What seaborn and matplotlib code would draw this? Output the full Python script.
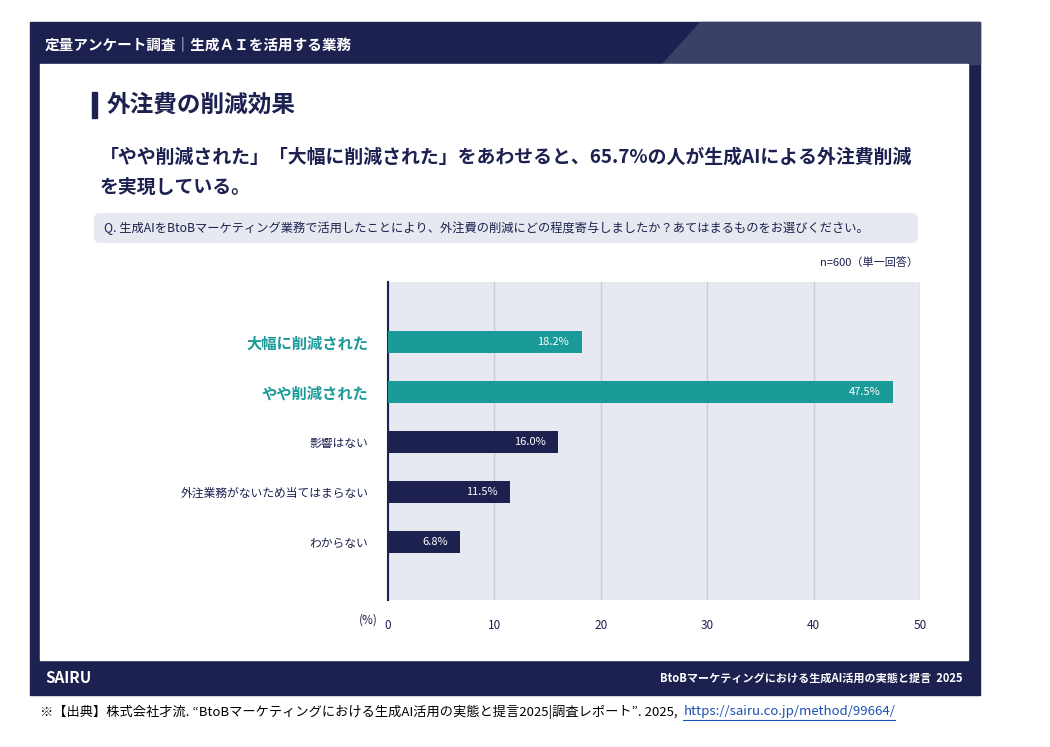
import matplotlib
matplotlib.use("Agg")
import matplotlib.pyplot as plt
from matplotlib.patches import Rectangle, FancyBboxPatch, Polygon
import pandas as pd
import seaborn as sns

categories = ["大幅に削減された", "やや削減された", "影響はない", "外注業務がないため当てはまらない", "わからない"]
values = [18.2, 47.5, 16.0, 11.5, 6.8]
highlight = [True, True, False, False, False]
x_ticks = [0, 10, 20, 30, 40, 50]

NAVY = "#1c2150"
TEAL = "#1a9a98"
PANEL = "#e6e9ef"

sns.set_theme(style="white")
plt.rcParams["font.family"] = ["Noto Sans CJK JP", "DejaVu Sans"]

fig = plt.figure(figsize=(10.5, 7.47), dpi=100)
bg = fig.add_axes([0, 0, 1, 1])
bg.set_xlim(0, 1050)
bg.set_ylim(747, 0)
bg.axis("off")

# slide frame
bg.add_patch(Rectangle((30, 22), 950, 673, color=NAVY))
bg.add_patch(Polygon([[700, 22], [980, 22], [980, 64], [662, 64]], color="#3a4066"))
bg.add_patch(Rectangle((40, 64), 928, 596, color="white"))
bg.text(45, 44, "定量アンケート調査｜生成ＡＩを活用する業務", color="white", fontsize=10.5,
        fontweight="bold", va="center")
bg.text(45, 678, "SAIRU", color="white", fontsize=11, fontweight="bold", va="center")
bg.text(962, 678, "BtoBマーケティングにおける生成AI活用の実態と提言  2025", color="white",
        fontsize=8, fontweight="bold", va="center", ha="right")

# title
bg.add_patch(Rectangle((92, 92), 5, 26, color=NAVY))
bg.text(107, 105, "外注費の削減効果", color=NAVY, fontsize=17, fontweight="bold", va="center")
bg.text(100, 157, "「やや削減された」「大幅に削減された」をあわせると、65.7%の人が生成AIによる外注費削減",
        color=NAVY, fontsize=13.6, fontweight="bold", va="center")
bg.text(100, 187, "を実現している。", color=NAVY, fontsize=13.6, fontweight="bold", va="center")
bg.add_patch(FancyBboxPatch((94, 213), 824, 30, boxstyle="round,pad=0,rounding_size=6",
                            color=PANEL, lw=0))
bg.text(104, 228, "Q. 生成AIをBtoBマーケティング業務で活用したことにより、外注費の削減にどの程度寄与しましたか？あてはまるものをお選びください。",
        color=NAVY, fontsize=8.8, va="center")
bg.text(918, 262, "n=600（単一回答）", color=NAVY, fontsize=8, va="center", ha="right")
bg.text(378, 620, "(%)", color=NAVY, fontsize=8.5, va="center", ha="right")

# source line
src = bg.text(40, 712, "※【出典】株式会社才流. “BtoBマーケティングにおける生成AI活用の実態と提言2025|調査レポート”. 2025, ",
              color="black", fontsize=9.5, va="center")
url = bg.annotate("https://sairu.co.jp/method/99664/", xy=(1, 0.5), xycoords=src,
                  xytext=(2, 0), textcoords="offset points", va="center",
                  color="#1a4fb5", fontsize=9.5)
fig.canvas.draw()
ub = url.get_window_extent().transformed(bg.transData.inverted())
bg.plot([ub.x0, ub.x1], [720, 720], color="#1a4fb5", lw=0.8)

# chart
ax = fig.add_axes([388 / 1050, 147 / 747, 532 / 1050, 318 / 747])
ax.set_facecolor(PANEL)
df = pd.DataFrame({"category": categories, "value": values})
colors = [TEAL if h else NAVY for h in highlight]
sns.barplot(data=df, x="value", y="category", hue="category", palette=colors,
            legend=False, width=0.44, saturation=1, linewidth=0, ax=ax, zorder=3)
ax.set_xlim(0, 50)
ax.set_ylim(len(categories) - 1 + 1.16, -1.2)
ax.set_xticks(x_ticks)
ax.set_xticklabels([str(t) for t in x_ticks])
ax.grid(axis="x", color="#c8ccd4", lw=1, zorder=0)
ax.tick_params(axis="x", length=0, pad=14, labelsize=8.5, labelcolor=NAVY)
ax.tick_params(axis="y", length=0, pad=14)
ax.set_xlabel("")
ax.set_ylabel("")
for s in ["top", "right", "bottom"]:
    ax.spines[s].set_visible(False)
ax.spines["left"].set_color(NAVY)
ax.spines["left"].set_linewidth(1.5)
for lab, h in zip(ax.get_yticklabels(), highlight):
    lab.set_color(TEAL if h else NAVY)
    lab.set_fontsize(11 if h else 8.5)
    lab.set_fontweight("bold" if h else "normal")
for i, v in enumerate(values):
    ax.text(v - 1.2, i, f"{v:.1f}%", color="white", fontsize=8, ha="right", va="center", zorder=4)

fig.savefig("out.png", dpi=100)
